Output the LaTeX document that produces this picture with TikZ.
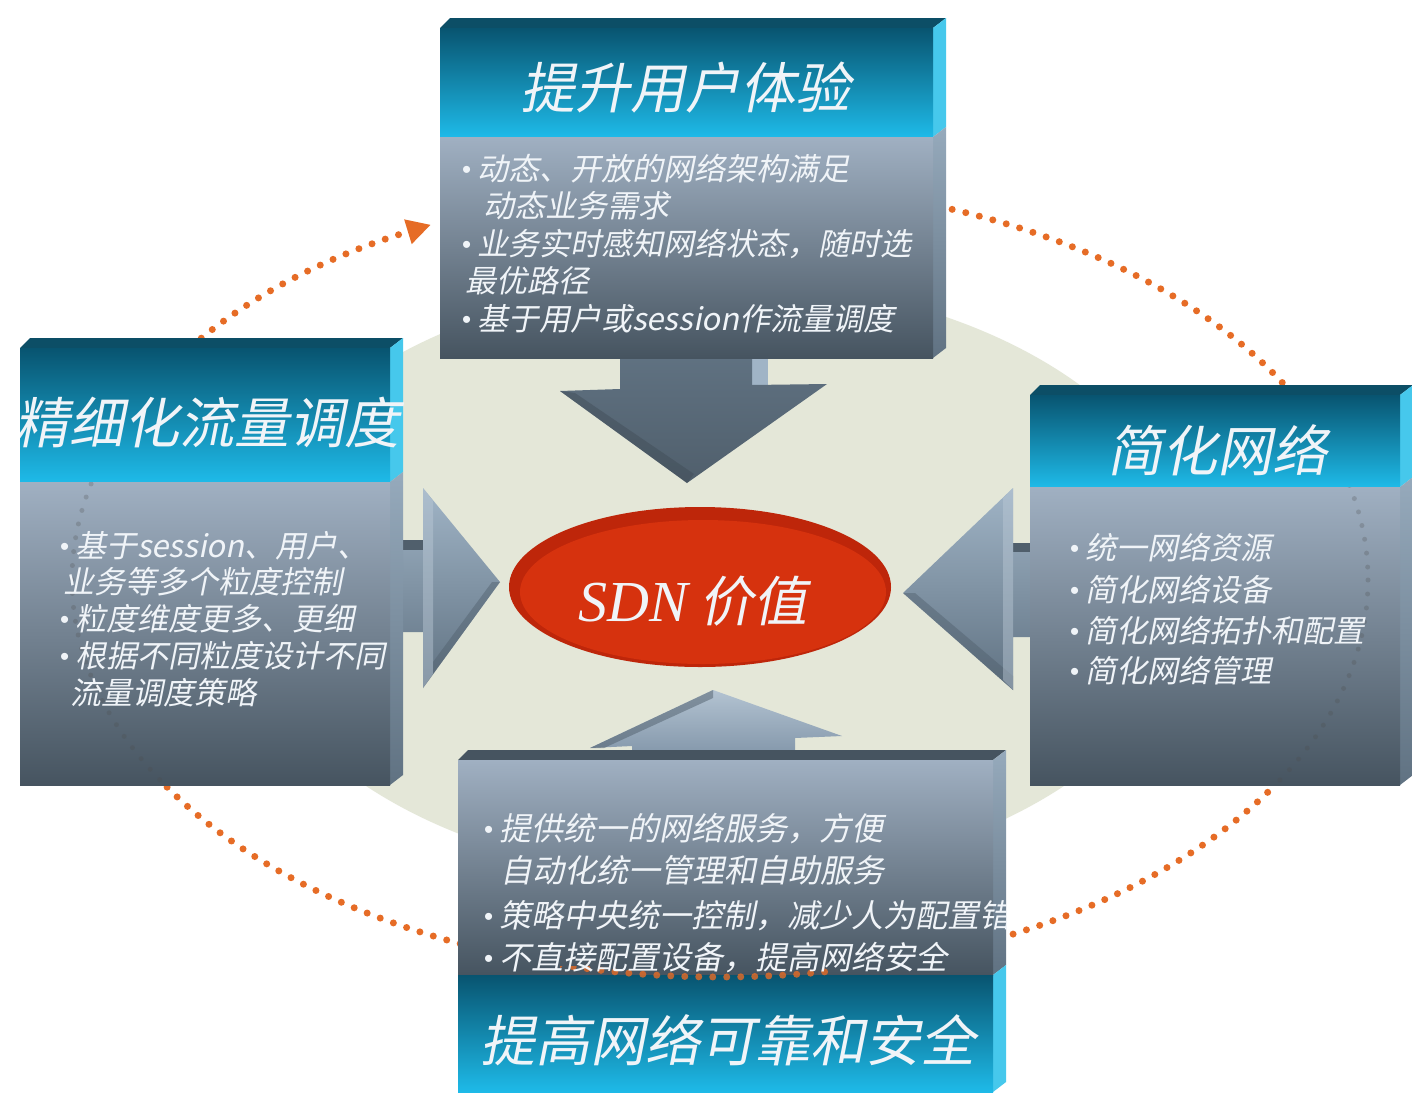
\documentclass[tikz,border=0pt]{standalone}
\usepackage{fontspec}
\usetikzlibrary{arrows.meta}
\newfontfamily\cjkfont[FakeSlant=0.2]{Noto Sans CJK SC}
\newfontfamily\sdnlat{Liberation Serif}
\newfontfamily\bulfont{Liberation Sans}

\definecolor{beige}{RGB}{228,231,216}
\definecolor{dotorange}{RGB}{230,108,38}
\definecolor{hdrtop}{RGB}{8,84,112}
\definecolor{hdrmid}{RGB}{16,140,190}
\definecolor{hdrbot}{RGB}{30,186,232}
\definecolor{bodytop}{RGB}{160,176,194}
\definecolor{bodybot}{RGB}{70,84,96}
\definecolor{sidehdr}{RGB}{70,200,236}
\definecolor{sidebodytop}{RGB}{150,170,188}
\definecolor{sidebodybot}{RGB}{96,114,130}
\definecolor{topface}{RGB}{12,78,102}
\definecolor{arrowlight}{RGB}{160,180,198}
\definecolor{arrowmid}{RGB}{126,146,166}
\definecolor{arrowdark}{RGB}{96,114,130}
\definecolor{arrowdeep}{RGB}{80,95,108}
\definecolor{sdnred}{RGB}{214,50,14}
\definecolor{sdnrim}{RGB}{190,38,10}
\definecolor{txtwhite}{RGB}{240,244,248}

\newcommand{\bl}{{\bulfont\fontsize{26}{26}\selectfont\raisebox{2pt}{•}}\hspace{6pt}}

\newcommand{\slabtop}[5]{%
  \fill[topface] (#1,#3) -- (#1+10,#3-10) -- (#2+13,#3-10) -- (#2,#3) -- cycle;
  \fill[sidehdr] (#2,#3) -- (#2+13,#3-10) -- (#2+13,#4-10) -- (#2,#4) -- cycle;
  \shade[top color=sidebodytop, bottom color=sidebodybot] (#2,#4) -- (#2+13,#4-10) -- (#2+13,#5-10) -- (#2,#5) -- cycle;
  \shade[top color=hdrtop, middle color=hdrmid, bottom color=hdrbot] (#1,#3) rectangle (#2,#4);
  \shade[top color=bodytop, bottom color=bodybot] (#1,#4) rectangle (#2,#5);
}

\begin{document}
\begin{tikzpicture}[x=1pt,y=-1pt,
  titletxt/.style={text=txtwhite, font=\cjkfont\fontsize{55}{60}\selectfont, inner sep=0pt},
  bodytxt/.style={text=txtwhite, font=\cjkfont\fontsize{31}{36}\selectfont, anchor=base west, inner sep=0pt},
  bodybig/.style={bodytxt, font=\cjkfont\fontsize{32}{36}\selectfont},
  dotring/.style={line width=7pt, line cap=round, dash pattern=on 0pt off 14pt}]

\useasboundingbox (0,0) rectangle (1412,1103);
\fill[white] (0,0) rectangle (1412,1103);

% pale background ellipse
\fill[beige] (715,580) ellipse [x radius=480, y radius=300];

% orange dotted cycle
\draw[dotorange, dotring, -{Triangle[length=24pt,width=24pt]}]
  (720,580) ++(247:648 and 397) arc[start angle=247, end angle=603.5, x radius=648, y radius=397];

% ---------- block arrows ----------
% down arrow from top box
\fill[arrowlight] (752,352) -- (768,352) -- (768,386) -- (752,386) -- cycle;
\shade[top color=arrowdark, bottom color=arrowdeep]
  (620,352) -- (620,389) -- (560,391) -- (687,483) -- (827,384) -- (752,385) -- (752,352) -- cycle;
\fill[arrowdeep!80!black, opacity=.45] (560,391) -- (687,483) -- (694,474) -- (575,393) -- cycle;

% right arrow from left box
\fill[arrowdeep] (385,540) -- (423,540) -- (423,552) -- (392,552) -- cycle;
\shade[top color=arrowlight, bottom color=arrowdark]
  (390,550) -- (423,550) -- (423,488) -- (500,582) -- (423,688) -- (423,632) -- (390,632) -- cycle;
\fill[arrowlight!70!white, opacity=.45] (423,488) -- (433,501) -- (433,674) -- (423,688) -- cycle;
\fill[arrowdeep, opacity=.45] (423,688) -- (500,582) -- (492,582) -- (433,662) -- (433,674) -- cycle;

% left arrow from right box
\fill[arrowdeep] (1013,543) -- (1032,543) -- (1032,552) -- (1013,552) -- cycle;
\shade[top color=arrowlight, bottom color=arrowdark]
  (1032,552) -- (1013,552) -- (1013,488) -- (903,593) -- (1013,690) -- (1013,637) -- (1032,637) -- cycle;
\fill[arrowdeep, opacity=.45] (903,593) -- (1013,690) -- (1013,676) -- (915,593) -- cycle;
\fill[arrowlight!70!white, opacity=.45] (1003,498) -- (1013,488) -- (1013,690) -- (1003,680) -- cycle;

% up arrow from bottom box
\shade[top color=arrowlight!80!white, bottom color=arrowmid]
  (632,762) -- (632,746) -- (590,748) -- (713,690) -- (842,736) -- (795,738) -- (795,762) -- cycle;
\fill[arrowdeep, opacity=.5] (590,748) -- (713,690) -- (713,698) -- (604,748) -- cycle;

% ---------- slabs ----------
\slabtop{440}{933}{28}{137}{358}
\slabtop{20}{390}{348}{482}{785}
\slabtop{1030}{1400}{395}{487}{785}

% bottom slab (header below)
\fill[bodybot] (458,760) -- (468,750) -- (1006,750) -- (993,760) -- cycle;
\shade[top color=sidebodytop, bottom color=sidebodybot] (993,760) -- (1006,750) -- (1006,965) -- (993,975) -- cycle;
\fill[sidehdr] (993,975) -- (1006,965) -- (1006,1082) -- (993,1092) -- cycle;
\shade[top color=bodytop, bottom color=bodybot] (458,760) rectangle (993,975);
\shade[top color=hdrtop, middle color=hdrmid, bottom color=hdrbot] (458,975) rectangle (993,1092);

% faint ring seen through the slabs
\begin{scope}
  \clip (20,482) rectangle (390,785) (1030,487) rectangle (1400,785);
  \draw[black!70, opacity=.25, dotring, line width=5pt] (720,580) ellipse [x radius=648, y radius=397];
\end{scope}
\begin{scope}
  \clip (560,966) rectangle (830,985);
  \draw[dotorange, opacity=.8, dotring] (720,580) ellipse [x radius=648, y radius=397];
\end{scope}

% ---------- centre ellipse ----------
\fill[sdnrim] (700,587) ellipse [x radius=191, y radius=80];
\fill[sdnred] (703,592) ellipse [x radius=183, y radius=72];
\node[inner sep=0pt, text=txtwhite] (sdn) at (693,601)
  {{\sdnlat\itshape\fontsize{58}{60}\selectfont SDN}\hspace{12pt}{\cjkfont\fontsize{54}{60}\selectfont 价值}};

% ---------- texts ----------
\begin{scope}
  \clip (440,18) rectangle (946,358);
  \node[titletxt] (t1) at (685,88) {提升用户体验};
  \node[bodytxt] (t1a) at (462,180) {\bl 动态、开放的网络架构满足};
  \node[bodytxt] (t1b) at (483,217) {动态业务需求};
  \node[bodytxt] (t1c) at (462,255) {\bl 业务实时感知网络状态，随时选};
  \node[bodytxt] (t1d) at (465,292) {最优路径};
  \node[bodytxt] (t1e) at (462,330) {\bl 基于用户或session作流量调度};
\end{scope}

\begin{scope}
  \clip (20,338) rectangle (403,785);
  \node[titletxt] (t2) at (207,422) {精细化流量调度};
  \node[bodytxt] (t2a) at (60,557) {\bl 基于session、用户、};
  \node[bodytxt] (t2b) at (63,593) {业务等多个粒度控制};
  \node[bodytxt] (t2c) at (60,630) {\bl 粒度维度更多、更细};
  \node[bodytxt] (t2d) at (60,667) {\bl 根据不同粒度设计不同};
  \node[bodytxt] (t2e) at (70,704) {流量调度策略};
\end{scope}

\begin{scope}
  \clip (1030,385) rectangle (1412,785);
  \node[titletxt] (t3) at (1217,450) {简化网络};
  \node[bodytxt] (t3a) at (1070,559) {\bl 统一网络资源};
  \node[bodytxt] (t3b) at (1070,601) {\bl 简化网络设备};
  \node[bodytxt] (t3c) at (1070,642) {\bl 简化网络拓扑和配置};
  \node[bodytxt] (t3d) at (1070,682) {\bl 简化网络管理};
\end{scope}

\begin{scope}
  \clip (458,750) rectangle (1006,1092);
  \node[bodybig] (t4a) at (484,840) {\bl 提供统一的网络服务，方便};
  \node[bodybig] (t4b) at (500,882) {自动化统一管理和自助服务};
  \node[bodybig] (t4c) at (484,927) {\bl 策略中央统一控制，减少人为配置错};
  \node[bodybig] (t4d) at (484,969) {\bl 不直接配置设备，提高网络安全};
  \node[titletxt] (t4) at (728,1040) {提高网络可靠和安全};
\end{scope}

\end{tikzpicture}
\end{document}
